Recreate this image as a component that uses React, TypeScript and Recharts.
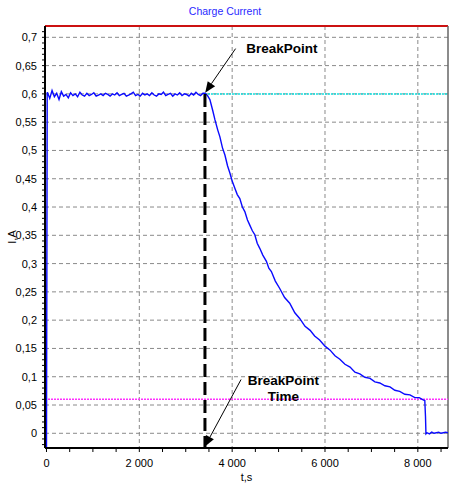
import React from 'react';
import { LineChart, Line, XAxis, YAxis, CartesianGrid, ReferenceLine, ReferenceDot } from 'recharts';

const FONT = '"Liberation Sans", Arial, sans-serif';

// ---- data (time in s, current in A) ----
const startPoints: [number, number][] = [[0, -0.025], [8, 0.29], [15, 0.6]];
const plateauStart = 20;
const plateauStep = 50;
const plateauValues = [
  0.603, 0.592, 0.606, 0.595, 0.601, 0.590, 0.604, 0.596, 0.599, 0.593,
  0.602, 0.597, 0.600, 0.595, 0.603, 0.598, 0.596, 0.601, 0.597, 0.599,
  0.602, 0.596, 0.598, 0.600, 0.597, 0.601, 0.599, 0.596, 0.600, 0.598,
  0.602, 0.597, 0.599, 0.601, 0.596, 0.598, 0.600, 0.603, 0.597, 0.599,
  0.596, 0.601, 0.598, 0.600, 0.597, 0.602, 0.598, 0.596, 0.600, 0.599,
  0.603, 0.597, 0.599, 0.601, 0.596, 0.600, 0.598, 0.602, 0.597, 0.600,
  0.599, 0.596, 0.601, 0.598, 0.603, 0.599, 0.597, 0.601,
];
const decayPoints: [number, number][] = [
  [3414, 0.601], [3470, 0.597], [3520, 0.590], [3580, 0.571], [3630, 0.554],
  [3690, 0.536], [3736, 0.524], [3790, 0.505], [3844, 0.492], [3900, 0.473],
  [3951, 0.460], [4000, 0.446], [4058, 0.433], [4110, 0.422], [4165, 0.415],
  [4220, 0.400], [4273, 0.392], [4330, 0.377], [4380, 0.368], [4435, 0.358],
  [4488, 0.351], [4540, 0.336], [4595, 0.327], [4660, 0.315], [4738, 0.304],
  [4790, 0.292], [4845, 0.286], [4930, 0.269], [5025, 0.256], [5130, 0.240],
  [5240, 0.230], [5350, 0.213], [5455, 0.203], [5570, 0.189], [5680, 0.182],
  [5777, 0.172], [5884, 0.165], [6000, 0.154], [6110, 0.147], [6215, 0.137],
  [6320, 0.131], [6430, 0.122], [6540, 0.117], [6645, 0.108], [6750, 0.105],
  [6860, 0.099], [6970, 0.097], [7075, 0.091], [7180, 0.089], [7290, 0.084],
  [7400, 0.082], [7505, 0.076], [7610, 0.074], [7720, 0.069], [7830, 0.068],
  [7935, 0.063], [8030, 0.063], [8115, 0.059], [8150, 0.058], [8165, 0.03],
  [8175, -0.001],
];
const tailPoints: [number, number][] = [
  [8200, 0.001], [8250, -0.001], [8300, 0.002], [8350, 0.0], [8400, 0.001],
  [8450, 0.002], [8500, 0.0], [8550, 0.001], [8600, 0.002], [8648, 0.001],
];

const xMajorTicks = [0, 2000, 4000, 6000, 8000];
const xMinorTicks = [0, 500, 1000, 1500, 2000, 2500, 3000, 3500, 4000, 4500, 5000, 5500, 6000, 6500, 7000, 7500, 8000, 8500];
const yMajorTicks = [0, 0.05, 0.1, 0.15, 0.2, 0.25, 0.3, 0.35, 0.4, 0.45, 0.5, 0.55, 0.6, 0.65, 0.7];
const yMinorTicks = Array.from({ length: 74 }, (_, k) => Math.round((k - 2) * 10) / 1000).filter(v => v >= -0.02);

const xDomain: [number, number] = [-32, 8650];
const yDomain: [number, number] = [-0.026, 0.72];

const breakTime = 3414;
const breakCurrent = 0.6;
const limitCurrent = 0.06;
const maxCurrent = 0.72;

const breakLabel = { t: 5073, i: 0.672 };
const breakTimeLabel = { t: 5105, i: 0.0854 };
const arrow1: [{ x: number; y: number }, { x: number; y: number }] = [{ x: 4074, y: 0.680 }, { x: 3419, y: 0.602 }];
const arrow2: [{ x: number; y: number }, { x: number; y: number }] = [{ x: 4192, y: 0.0951 }, { x: 3408, y: -0.024 }];

const data = [
  ...startPoints.map(([t, i]) => ({ t, i })),
  ...plateauValues.map((i, k) => ({ t: plateauStart + k * plateauStep, i })),
  ...decayPoints.map(([t, i]) => ({ t, i })),
  ...tailPoints.map(([t, i]) => ({ t, i })),
];

const fmtX = (v: number) => {
  const s = String(Math.round(v));
  return s.length > 3 ? s.slice(0, s.length - 3) + ' ' + s.slice(-3) : s;
};
const fmtY = (v: number) => String(Math.round(v * 100) / 100).replace('.', ',');

const isMajorX = (v: number) => xMajorTicks.some(m => Math.abs(m - v) < 1e-6);
const isMajorY = (v: number) => yMajorTicks.some(m => Math.abs(m - v) < 1e-6);

const XTick = (props: any) => {
  const { x, y, payload } = props;
  if (!isMajorX(payload.value)) return <g />;
  return (
    <text x={x} y={y + 13} textAnchor="middle" fontSize={11} fontFamily={FONT} fill="#000">
      {fmtX(payload.value)}
    </text>
  );
};

const YTick = (props: any) => {
  const { x, y, payload } = props;
  if (!isMajorY(payload.value)) return <g />;
  return (
    <text x={x} y={y + 4} textAnchor="end" fontSize={11} fontFamily={FONT} fill="#000">
      {fmtY(payload.value)}
    </text>
  );
};

const ArrowShape = (props: any) => {
  const { x1, y1, x2, y2 } = props;
  if ([x1, y1, x2, y2].some(v => v == null || isNaN(v))) return <g />;
  const dx = x2 - x1;
  const dy = y2 - y1;
  const len = Math.hypot(dx, dy) || 1;
  const ux = dx / len;
  const uy = dy / len;
  const hl = 11;
  const hw = 4.5;
  const bx = x2 - ux * hl;
  const by = y2 - uy * hl;
  return (
    <g>
      <line x1={x1} y1={y1} x2={bx} y2={by} stroke="#000" strokeWidth={1} />
      <polygon points={`${x2},${y2} ${bx - uy * hw},${by + ux * hw} ${bx + uy * hw},${by - ux * hw}`} fill="#000" />
    </g>
  );
};

const makeTextShape = (lines: string[]) => (props: any) => {
  const { cx, cy } = props;
  return (
    <text x={cx} y={cy} textAnchor="middle" fontSize={13.5} fontWeight="bold" fontFamily={FONT} fill="#000">
      {lines.map((l, k) => (
        <tspan key={k} x={cx} dy={k === 0 ? 0 : 16.5}>{l}</tspan>
      ))}
    </text>
  );
};

export default function App() {
  return (
    <div style={{ position: 'absolute', left: 0, top: 0, width: 450, height: 485, background: '#fff' }}>
      <div style={{ position: 'absolute', left: 0, top: 5, width: 450, textAlign: 'center', fontFamily: FONT, fontSize: 10.5, lineHeight: '12px', color: '#2a2aff' }}>
        Charge Current
      </div>
      <div style={{ position: 'absolute', left: 11.5, top: 236.5, transform: 'translate(-50%, -50%) rotate(-90deg)', fontFamily: FONT, fontSize: 11, lineHeight: '12px', color: '#000', whiteSpace: 'nowrap', zIndex: 2 }}>
        I,A
      </div>
      <LineChart width={450} height={485} data={data} margin={{ top: 26, right: 2, bottom: 0, left: 0 }}>
        <CartesianGrid
          stroke="#8a8a8a"
          strokeDasharray="4 3"
          horizontalValues={yMajorTicks}
          verticalValues={xMajorTicks.filter(v => v > 0)}
        />
        <XAxis
          type="number"
          dataKey="t"
          domain={xDomain}
          ticks={xMinorTicks}
          interval={0}
          allowDataOverflow
          height={37}
          tick={<XTick />}
          tickSize={4}
          tickLine={{ stroke: '#000' }}
          axisLine={{ stroke: '#000', strokeWidth: 2 }}
          label={{ value: 't,s', position: 'insideBottom', offset: 4, fontSize: 11, fontFamily: FONT, fill: '#000' }}
        />
        <YAxis
          type="number"
          domain={yDomain}
          ticks={yMinorTicks}
          interval={0}
          allowDataOverflow
          width={45}
          tick={<YTick />}
          tickSize={3}
          tickMargin={5}
          tickLine={{ stroke: '#000' }}
          axisLine={{ stroke: '#000', strokeWidth: 2 }}
        />
        <ReferenceLine y={maxCurrent} stroke="#cc1111" strokeWidth={2} />
        <ReferenceLine x={xDomain[1]} stroke="#666" strokeWidth={1.5} />
        <ReferenceLine y={limitCurrent} stroke="#ff30ff" strokeDasharray="2 1" strokeWidth={1.5} />
        <ReferenceLine segment={[{ x: breakTime, y: breakCurrent }, { x: xDomain[1], y: breakCurrent }]} stroke="#10dede" strokeDasharray="2 1" strokeWidth={1.5} />
        <Line type="linear" dataKey="i" stroke="#0a0aff" strokeWidth={1.4} dot={false} isAnimationActive={false} />
        <ReferenceLine segment={[{ x: breakTime, y: breakCurrent }, { x: breakTime, y: yDomain[0] }]} stroke="#000" strokeWidth={3} strokeDasharray="13 5" />
        <ReferenceLine segment={arrow1} shape={ArrowShape} />
        <ReferenceLine segment={arrow2} shape={ArrowShape} />
        <ReferenceDot x={breakLabel.t} y={breakLabel.i} r={0} shape={makeTextShape(['BreakPoint'])} />
        <ReferenceDot x={breakTimeLabel.t} y={breakTimeLabel.i} r={0} shape={makeTextShape(['BreakPoint', 'Time'])} />
      </LineChart>
    </div>
  );
}
